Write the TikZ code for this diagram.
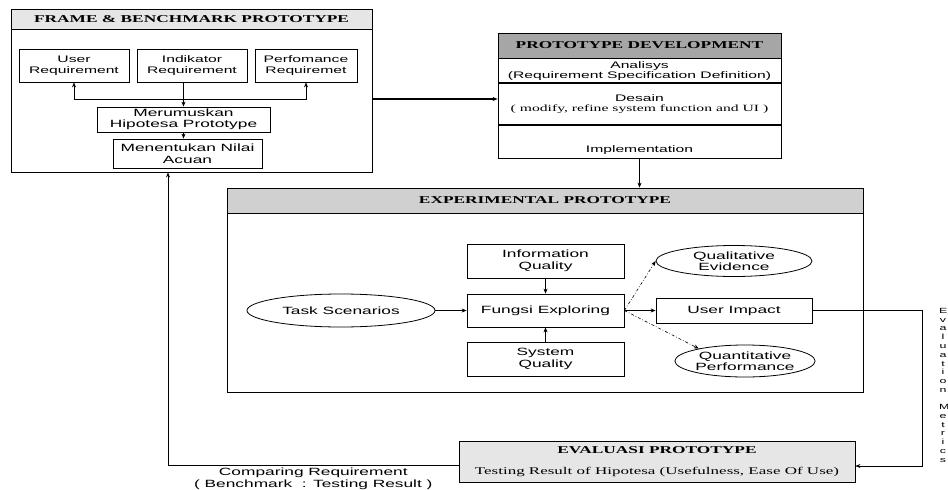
\documentclass[tikz,border=0pt]{standalone}
\usepackage{fontspec}
\setmainfont{Liberation Serif}[FakeStretch=1.65]
\setsansfont{Liberation Sans}[FakeStretch=1.65]
\usepackage{tikz}
\usetikzlibrary{arrows.meta,positioning,shapes.geometric}
\definecolor{lightbar}{RGB}{230,230,230}
\definecolor{midbar}{RGB}{208,208,208}
\definecolor{darkbar}{RGB}{166,166,166}
\newcommand{\titlefont}{\rmfamily\bfseries\fontsize{10.5}{12}\selectfont}

\begin{document}
\begin{tikzpicture}[
  x=1pt, y=-1pt, font=\sffamily\fontsize{10.5}{11.5}\selectfont,
  panel/.style={draw, line width=0.8pt, fill=white, inner sep=0pt},
  bar/.style={draw, line width=0.8pt, inner sep=0pt, font=\titlefont},
  box/.style={draw, line width=0.8pt, fill=white, align=center, inner sep=1pt},
  oval/.style={ellipse, draw, line width=0.8pt, fill=white, align=center, inner sep=0pt},
  small/.style={font=\sffamily\fontsize{9.5}{10.5}\selectfont},
  arrow/.style={-{Stealth[length=5pt,width=4pt]}, line width=0.6pt},
  dotarrow/.style={arrow, dash dot}]
  \useasboundingbox (0,0) rectangle (948,490);
  % frame & benchmark
  \node[panel, minimum width=361, minimum height=163] (frame) at (191.5,90.5) {};
  \node[bar, fill=lightbar, minimum width=361, minimum height=20, anchor=north] (framehead) at (frame.north) {FRAME \& BENCHMARK PROTOTYPE};
  \node[box, small, minimum width=110, minimum height=33] (userreq) at (74,65.5) {User\\Requirement};
  \node[box, small, minimum width=110, minimum height=33] (indik) at (192,65.5) {Indikator\\Requirement};
  \node[box, small, minimum width=102, minimum height=33] (perf) at (306,65.5) {Perfomance\\Requiremet};
  \node[box, minimum width=173, minimum height=25] (merum) at (183.5,119.5) {Merumuskan\\Hipotesa Prototype};
  \node[box, minimum width=149, minimum height=29] (menent) at (187.5,153.5) {Menentukan Nilai\\Acuan};
  \coordinate (fork) at (183.5,99);
  \draw[arrow] (merum.north |- indik.south) -- (merum.north);
  \draw[arrow] (fork) -| (userreq.south);
  \draw[arrow] (fork) -| (perf.south);
  \draw[arrow] (merum.south) -- (merum.south |- menent.north);

  % prototype development
  \node[bar, fill=darkbar, minimum width=283, minimum height=25] (devhead) at (639.5,45.5) {PROTOTYPE DEVELOPMENT};
  \node[box, small, minimum width=283, minimum height=24, below=0pt of devhead] (analisys) {Analisys\\(Requirement Specification Definition)};
  \node[box, small, minimum width=283, minimum height=41, below=0pt of analisys] (desain) {Desain\\{\rmfamily\fontsize{9.5}{11}\selectfont ( modify, refine system function and UI )}};
  \node[box, small, minimum width=283, minimum height=33, text height=23pt, text depth=2pt, below=0pt of desain] (impl) {Implementation};
  \draw[arrow, line width=1.1pt] (frame.east |- fork) -- (desain.west |- fork);

  % experimental prototype
  \node[panel, minimum width=636, minimum height=204] (exp) at (545,290) {};
  \node[bar, fill=midbar, minimum width=636, minimum height=25, anchor=north] (exphead) at (exp.north) {EXPERIMENTAL PROTOTYPE};
  \draw[arrow] (impl.south) -- (impl.south |- exp.north);
  \node[oval, minimum width=188, minimum height=33] (task) at (341,310.5) {Task Scenarios};
  \node[box, minimum width=157, minimum height=34] (infoq) at (545.5,261) {Information\\Quality};
  \node[box, minimum width=157, minimum height=33] (fungsi) at (545.5,310.5) {Fungsi Exploring};
  \node[box, minimum width=157, minimum height=34] (sysq) at (545.5,359) {System\\Quality};
  \node[oval, minimum width=156, minimum height=31] (qual) at (734,261) {Qualitative\\Evidence};
  \node[box, minimum width=156, minimum height=25] (impact) at (734,310.5) {User Impact};
  \node[oval, minimum width=134, minimum height=32] (quant) at (745,361) {Quantitative\\Performance};
  \draw[arrow] (task) -- (fungsi);
  \draw[arrow] (infoq) -- (fungsi);
  \draw[arrow] (sysq) -- (fungsi);
  \draw[arrow] (fungsi) -- (impact);
  \draw[dotarrow] (fungsi.east) -- (qual.west);
  \draw[dotarrow] (fungsi.east) -- (quant.165);

  % evaluasi
  \node[box, fill=lightbar, minimum width=396, minimum height=41] (eval) at (657,461.5)
    {{\titlefont EVALUASI PROTOTYPE}\\[9pt]{\rmfamily\fontsize{10.3}{12}\selectfont Testing Result of Hipotesa (Usefulness, Ease Of Use)}};
  \node[inner sep=0pt, anchor=north] (metrics) at (943,308)
    {\parbox{8pt}{\centering\fontsize{7.5}{8.8}\selectfont E\\v\\a\\l\\u\\a\\t\\i\\o\\n\\[8.2pt]M\\e\\t\\r\\i\\c\\s}};
  \coordinate (turn) at (922,466);
  \draw[arrow] (impact.east) -| (turn) -- (eval.east |- turn);
  \coordinate (back) at (168,465);
  \draw[arrow] (eval.west |- back) -- (back) node[midway, below, align=center, inner sep=3pt] {Comparing Requirement\\( Benchmark~ : Testing Result )} -- (frame.south -| back);
\end{tikzpicture}
\end{document}
